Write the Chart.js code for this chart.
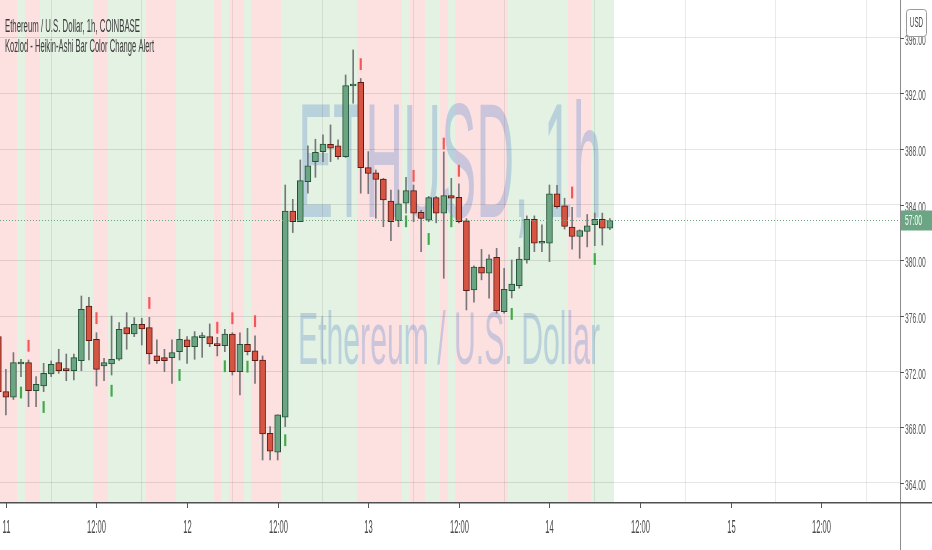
<!DOCTYPE html>
<html>
<head>
<meta charset="utf-8">
<script src="https://cdn.jsdelivr.net/npm/chart.js@4.4.1/dist/chart.umd.min.js"></script>
<style>
  html, body { margin: 0; padding: 0; background: #fff; }
  #wrap { width: 932px; height: 550px; }
</style>
</head>
<body>
<div id="wrap"><canvas id="chart" width="932" height="550"></canvas></div>
<script>
// hourly candles, first one is 10th 23:00 (hour -1 from the 11th 00:00)
const firstHour = -1;
const opens  = [374.52,370.56,370.16,372.55,372.65,370.63,370.97,371.83,372.65,372.19,372.07,372.79,376.72,374.33,372.41,372.55,372.89,375.17,374.71,375.41,375.17,373.13,373.01,373.01,373.44,374.28,373.80,374.45,374.52,374.00,373.87,374.71,372.00,373.97,373.49,372.84,367.56,366.22,368.72,383.55,382.78,385.66,387.10,387.82,388.35,388.23,387.46,392.54,392.80,386.67,386.30,385.85,384.27,382.85,384.11,385.02,383.46,382.90,384.51,383.39,384.66,384.54,382.85,377.87,379.51,379.08,380.22,376.32,377.82,378.18,380.03,382.96,381.23,381.23,384.78,383.92,382.39,381.72,382.08,382.56,382.96,382.32];
const highs  = [375.60,372.17,373.37,372.89,372.84,371.64,372.60,372.77,373.61,373.27,373.27,377.44,377.35,374.80,372.96,376.00,375.53,376.24,375.89,375.84,375.91,374.28,373.61,374.28,375.05,374.52,374.88,374.80,375.43,374.47,375.05,374.80,374.80,375.12,374.57,373.13,368.05,368.90,385.42,384.39,387.22,388.23,388.71,389.02,389.74,388.66,393.33,395.13,393.08,387.82,386.50,385.90,385.06,385.06,385.98,385.42,383.60,384.60,384.60,387.80,385.90,385.50,383.00,379.60,380.79,380.40,380.87,379.43,380.03,380.94,383.20,383.20,382.55,385.42,385.40,384.47,383.82,382.20,383.30,383.40,383.40,383.00];
const lows   = [369.90,368.89,370.00,371.64,369.48,369.48,370.56,371.64,371.88,371.35,371.40,372.07,372.84,370.97,371.35,371.76,372.80,373.61,374.52,373.92,372.55,372.60,372.00,371.16,372.84,372.60,372.89,373.03,373.80,373.13,373.44,371.76,370.32,373.20,371.16,365.65,365.65,365.65,368.05,382.00,382.78,384.83,385.97,387.10,387.10,387.27,387.40,391.30,384.83,384.80,383.03,382.42,381.42,382.42,383.40,382.78,380.63,382.78,382.70,378.71,383.20,382.70,376.44,377.00,378.60,377.28,376.20,376.20,377.30,378.00,379.80,380.63,380.63,379.91,383.75,382.25,380.80,380.15,380.97,381.06,381.10,382.20];
const closes = [370.56,370.16,372.65,372.65,370.63,371.09,371.88,372.53,372.07,372.07,373.01,376.49,374.23,372.17,372.65,372.89,375.05,374.71,375.41,375.07,373.27,372.79,372.79,373.37,374.33,373.80,374.52,374.57,374.00,373.87,374.71,372.00,373.97,373.44,372.79,367.52,366.29,368.89,383.55,382.78,385.73,386.79,387.77,388.37,388.06,387.46,392.56,392.68,386.67,386.26,385.83,384.34,382.78,384.06,385.02,383.39,383.02,384.51,383.39,384.66,384.47,382.78,377.82,379.51,379.08,380.11,376.39,377.92,378.30,380.10,382.96,381.23,381.35,384.78,383.87,382.44,381.72,382.15,382.49,382.96,382.32,382.87];

// indicator background, one letter per candle: r = red, g = green
const bandColors = "rrrgrrgggggggrrgggggrrrrgggggrgrrgrrrrggggggggggrrrrrrgrrggrgrrrrrrrggggggggrrrggg";

// alert ticks (hour, price)
const sellHours = [3, 12, 19, 28, 30, 33, 47, 54, 58, 60, 75];
const sellPrices = [373.86, 375.85, 376.94, 375.16, 375.84, 375.63, 394.11, 386.08, 388.40, 386.44, 384.88];
const buyHours = [2, 5, 14, 23, 29, 32, 37, 53, 56, 59, 67, 78];
const buyPrices = [370.50, 369.46, 370.63, 371.76, 372.39, 372.36, 367.07, 382.81, 381.54, 382.81, 376.15, 380.10];

const timeTicks = [0, 12, 24, 36, 48, 60, 72, 84, 96, 108];
const timeLabels = ["11", "12:00", "12", "12:00", "13", "12:00", "14", "12:00", "15", "12:00"];
const priceTicks = [364, 368, 372, 376, 380, 384, 388, 392, 396];
const lastPrice = 382.87;
const countdown = "57:00";

const UP = '#6ba583', DOWN = '#d75442', UP_BORDER = '#225437', DOWN_BORDER = '#5b1a13';
const FONT = '"Liberation Sans", Arial, sans-serif';

const hours = opens.map((v, i) => firstHour + i);
const isUp = i => closes[i] >= opens[i];

// draws text squeezed horizontally, like the screenshot
function squeezeText(ctx, text, x, y, size, scaleX, align, color) {
    ctx.save();
    ctx.font = size + 'px ' + FONT;
    ctx.fillStyle = color;
    ctx.textBaseline = 'middle';
    ctx.textAlign = 'left';
    const w = ctx.measureText(text).width * scaleX;
    let x0 = x;
    if (align === 'center') x0 = x - w / 2;
    if (align === 'right') x0 = x - w;
    ctx.translate(x0, y);
    ctx.scale(scaleX, 1);
    ctx.fillText(text, 0, 0);
    ctx.restore();
}

function fitText(ctx, text, x, y, size, width, color) {
    ctx.save();
    ctx.font = size + 'px ' + FONT;
    const sx = width / ctx.measureText(text).width;
    ctx.restore();
    squeezeText(ctx, text, x, y, size, sx, 'left', color);
}

const backgroundPlugin = {
    id: 'background',
    beforeDraw(chart) {
        const ctx = chart.ctx;
        const area = chart.chartArea;
        const xs = chart.scales.x;
        ctx.save();
        ctx.fillStyle = '#fff';
        ctx.fillRect(0, 0, chart.width, chart.height);
        ctx.beginPath();
        ctx.rect(area.left, area.top, area.right - area.left, area.bottom - area.top);
        ctx.clip();
        hours.forEach((h, i) => {
            const x0 = Math.round(xs.getPixelForValue(h - 0.5));
            const x1 = Math.round(xs.getPixelForValue(h + 0.5));
            ctx.fillStyle = bandColors[i] === 'r' ? '#fde1e1' : '#e3f2e2';
            ctx.fillRect(x0, area.top, x1 - x0, area.bottom - area.top);
        });
        // watermark
        fitText(ctx, 'ETHUSD, 1h', 298, 172, 163, 304, 'rgba(95,140,205,0.32)');
        fitText(ctx, 'Ethereum / U.S. Dollar', 298, 344, 74, 302, 'rgba(95,140,205,0.32)');
        ctx.restore();
    },
    afterDraw(chart) {
        const ctx = chart.ctx;
        const area = chart.chartArea;
        const xs = chart.scales.x, ys = chart.scales.y;
        ctx.save();

        // last price line
        const py = Math.round(ys.getPixelForValue(lastPrice)) + 0.5;
        ctx.strokeStyle = UP;
        ctx.lineWidth = 1;
        ctx.setLineDash([1, 2]);
        ctx.beginPath();
        ctx.moveTo(area.left, py);
        ctx.lineTo(area.right, py);
        ctx.stroke();
        ctx.setLineDash([]);

        // axis lines
        ctx.strokeStyle = '#8c8c8c';
        ctx.lineWidth = 1;
        ctx.beginPath();
        ctx.moveTo(area.right + 0.5, 0);
        ctx.lineTo(area.right + 0.5, chart.height);
        ctx.stroke();
        ctx.strokeStyle = '#505050';
        ctx.lineWidth = 1.5;
        ctx.beginPath();
        ctx.moveTo(0, area.bottom + 0.75);
        ctx.lineTo(chart.width, area.bottom + 0.75);
        ctx.stroke();

        // time axis
        ctx.strokeStyle = '#555';
        ctx.lineWidth = 1;
        timeTicks.forEach((t, k) => {
            const x = Math.round(xs.getPixelForValue(t)) + 0.5;
            ctx.beginPath();
            ctx.moveTo(x, area.bottom + 1);
            ctx.lineTo(x, area.bottom + 6);
            ctx.stroke();
            squeezeText(ctx, timeLabels[k], x, area.bottom + 26, 18, 0.42, 'center', '#4a4a4a');
        });

        // price axis
        priceTicks.forEach(p => {
            const y = Math.round(ys.getPixelForValue(p)) + 0.5;
            ctx.beginPath();
            ctx.moveTo(area.right, y);
            ctx.lineTo(area.right + 4, y);
            ctx.stroke();
            squeezeText(ctx, p.toFixed(2), area.right + 5, y + 2, 15, 0.45, 'left', '#555');
        });

        // currency box
        ctx.fillStyle = '#fff';
        ctx.strokeStyle = '#9a9a9a';
        ctx.beginPath();
        ctx.roundRect(906.5, 9.5, 20, 27, 3);
        ctx.fill();
        ctx.stroke();
        squeezeText(ctx, 'USD', 916.5, 23, 14, 0.45, 'center', '#444');

        // last price label
        ctx.fillStyle = UP;
        ctx.fillRect(area.right + 1, py - 10, chart.width - area.right - 1, 20);
        squeezeText(ctx, countdown, area.right + 5, py, 15, 0.45, 'left', '#fff');

        // legend
        fitText(ctx, 'Ethereum / U.S. Dollar, 1h, COINBASE', 5, 27, 18, 135, '#3a3a3a');
        fitText(ctx, 'Kozlod - Heikin-Ashi Bar Color Change Alert', 5, 47, 18, 149, '#3a3a3a');
        ctx.restore();
    }
};

new Chart(document.getElementById('chart'), {
    type: 'bar',
    data: {
        datasets: [
            {
                label: 'Wicks',
                data: hours.map((h, i) => ({ x: h, y: [lows[i], highs[i]] })),
                backgroundColor: '#777779',
                barThickness: 1,
                grouped: false,
                order: 3
            },
            {
                label: 'Bodies',
                data: hours.map((h, i) => ({ x: h, y: [opens[i], closes[i]] })),
                backgroundColor: hours.map((h, i) => isUp(i) ? UP : DOWN),
                borderColor: hours.map((h, i) => isUp(i) ? UP_BORDER : DOWN_BORDER),
                borderWidth: 1,
                borderSkipped: false,
                barThickness: 6,
                minBarLength: 2,
                grouped: false,
                order: 2
            },
            {
                label: 'Sell',
                data: sellHours.map((h, k) => ({ x: h, y: [sellPrices[k] - 0.4, sellPrices[k] + 0.4] })),
                backgroundColor: '#f25757',
                barThickness: 1.5,
                grouped: false,
                order: 1
            },
            {
                label: 'Buy',
                data: buyHours.map((h, k) => ({ x: h, y: [buyPrices[k] - 0.4, buyPrices[k] + 0.4] })),
                backgroundColor: '#46a64a',
                barThickness: 1.5,
                grouped: false,
                order: 1
            }
        ]
    },
    options: {
        responsive: false,
        animation: false,
        layout: { padding: 0 },
        plugins: {
            legend: { display: false },
            tooltip: { enabled: false }
        },
        scales: {
            x: {
                type: 'linear',
                min: -0.78,
                max: 118.43,
                offset: false,
                grid: { color: 'rgba(0,0,0,0.08)', drawTicks: false },
                border: { display: false },
                ticks: { display: false },
                afterBuildTicks: s => { s.ticks = timeTicks.map(v => ({ value: v })); },
                afterFit: s => { s.height = 48; }
            },
            y: {
                type: 'linear',
                position: 'right',
                min: 362.63,
                max: 398.72,
                grid: { color: 'rgba(0,0,0,0.1)', drawTicks: false },
                border: { display: false },
                ticks: { display: false },
                afterBuildTicks: s => { s.ticks = priceTicks.map(v => ({ value: v })); },
                afterFit: s => { s.width = 32; }
            }
        }
    },
    plugins: [backgroundPlugin]
});
</script>
</body>
</html>
